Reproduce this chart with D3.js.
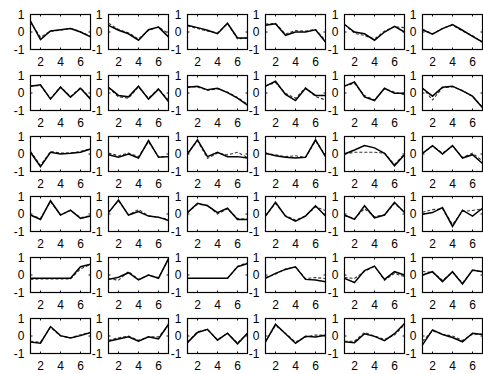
<!DOCTYPE html>
<html>
<head>
<meta charset="utf-8">
<script src="https://cdn.jsdelivr.net/npm/d3@7"></script>
<style>
  body { margin: 0; background: #fff; }
  svg { display: block; }
</style>
</head>
<body>
<div id="chart"></div>
<script>
const xValues = [1, 2, 3, 4, 5, 6, 7];
const xTicks = [2, 4, 6];
const yTicks = [-1, 0, 1];

// solid line per panel, row by row (6 x 6)
const solidSeries = [
  [0.62, -0.43, 0.06, 0.13, 0.2, 0.0, -0.28],
  [0.38, 0.1, -0.1, -0.47, 0.13, 0.28, -0.28],
  [0.38, 0.25, 0.1, -0.1, 0.5, -0.34, -0.34],
  [0.38, 0.47, -0.19, 0.0, 0.0, 0.13, -0.57],
  [0.43, 0.0, -0.1, -0.47, 0.0, 0.32, 0.0],
  [0.13, -0.13, 0.19, 0.42, 0.1, -0.25, -0.57],

  [0.39, 0.47, -0.35, 0.33, -0.24, 0.27, -0.35],
  [0.33, -0.14, -0.22, 0.39, -0.35, 0.22, -0.49],
  [0.33, 0.39, 0.18, 0.27, 0.02, -0.29, -0.69],
  [0.39, 0.67, -0.08, -0.43, 0.27, -0.14, -0.14],
  [0.39, 0.63, -0.22, -0.43, 0.27, -0.02, -0.02],
  [0.27, -0.18, 0.33, 0.39, 0.12, -0.18, -0.84],

  [0.1, -0.73, 0.1, 0.0, 0.04, 0.1, 0.29],
  [-0.04, -0.19, 0.0, -0.23, 0.77, -0.19, -0.15],
  [0.0, 0.81, -0.15, 0.1, -0.15, -0.15, -0.23],
  [0.04, -0.1, -0.19, -0.23, -0.19, 0.81, -0.15],
  [0.0, 0.23, 0.48, 0.35, 0.04, -0.67, -0.04],
  [0.04, 0.48, 0.0, 0.48, -0.23, -0.04, -0.54],

  [-0.06, -0.31, 0.76, -0.06, 0.22, -0.25, -0.12],
  [0.08, 0.8, -0.06, 0.14, -0.12, -0.18, -0.37],
  [0.08, 0.61, 0.47, 0.08, 0.33, -0.31, -0.31],
  [-0.12, 0.67, -0.12, -0.41, -0.12, 0.47, -0.12],
  [-0.06, -0.31, 0.47, -0.22, -0.06, 0.67, 0.08],
  [-0.02, 0.08, 0.37, -0.71, 0.22, -0.12, 0.33],

  [-0.19, -0.19, -0.19, -0.19, -0.19, 0.47, 0.62],
  [-0.25, -0.13, 0.13, -0.28, 0.0, -0.19, 0.94],
  [-0.19, -0.19, -0.19, -0.19, -0.19, 0.47, 0.66],
  [-0.19, 0.09, 0.32, 0.47, -0.25, -0.28, -0.38],
  [-0.19, -0.43, 0.25, 0.51, -0.25, 0.19, 0.0],
  [0.0, 0.19, -0.38, 0.19, -0.51, 0.28, 0.19],

  [-0.35, -0.41, 0.54, 0.02, -0.11, 0.02, 0.2],
  [-0.3, -0.17, -0.04, -0.3, -0.04, -0.17, 0.67],
  [-0.38, 0.2, 0.38, -0.24, 0.16, -0.45, 0.16],
  [-0.33, 0.67, 0.13, -0.42, -0.02, -0.05, 0.04],
  [-0.33, -0.38, 0.13, -0.02, -0.27, 0.13, 0.71],
  [-0.51, 0.35, 0.09, -0.09, -0.33, 0.16, 0.09]
];

// dashed line per panel
const dashedSeries = [
  [0.55, -0.3, 0.05, 0.1, 0.22, 0.02, -0.25],
  [0.5, 0.15, -0.05, -0.4, 0.1, 0.3, -0.1],
  [0.35, 0.2, 0.05, -0.05, 0.48, -0.4, -0.35],
  [0.45, 0.5, -0.12, 0.08, 0.05, 0.15, -0.5],
  [0.45, -0.08, -0.2, -0.4, 0.05, 0.3, 0.25],
  [0.15, -0.1, 0.2, 0.4, 0.05, -0.2, -0.6],

  [0.4, 0.42, -0.3, 0.35, -0.2, 0.3, -0.3],
  [0.3, -0.22, -0.3, 0.35, -0.3, 0.25, -0.4],
  [0.35, 0.35, 0.15, 0.25, 0.05, -0.25, -0.65],
  [0.4, 0.6, -0.02, -0.3, 0.3, -0.2, -0.4],
  [0.4, 0.55, -0.15, -0.4, 0.25, 0.05, -0.1],
  [0.3, -0.4, 0.3, 0.35, 0.15, -0.2, -0.8],

  [0.15, -0.65, 0.15, 0.05, 0.05, 0.15, 0.3],
  [0.05, -0.1, 0.05, -0.15, 0.7, -0.15, -0.15],
  [0.05, 0.75, -0.25, 0.05, -0.05, 0.1, -0.2],
  [0.05, -0.05, -0.15, -0.1, -0.2, 0.75, -0.1],
  [0.0, 0.1, 0.1, 0.1, 0.05, -0.6, 0.0],
  [0.05, 0.45, 0.05, 0.45, -0.2, 0.05, -0.4],

  [-0.05, -0.25, 0.7, -0.05, 0.2, -0.2, -0.1],
  [0.1, 0.75, -0.05, 0.25, -0.1, -0.2, -0.3],
  [0.1, 0.55, 0.5, 0.0, 0.3, -0.25, -0.3],
  [-0.1, 0.6, -0.1, -0.35, -0.1, 0.4, 0.2],
  [-0.1, -0.25, 0.3, -0.15, -0.05, 0.6, 0.1],
  [0.1, 0.25, 0.3, -0.6, 0.15, 0.2, 0.3],

  [-0.25, -0.22, -0.22, -0.22, -0.22, 0.35, 0.6],
  [-0.2, -0.3, 0.2, -0.25, 0.0, -0.15, 0.9],
  [-0.2, -0.2, -0.2, -0.2, -0.2, 0.5, 0.7],
  [-0.15, 0.05, 0.35, 0.45, -0.2, -0.15, -0.2],
  [-0.15, -0.2, 0.2, 0.5, -0.3, 0.1, -0.1],
  [0.2, 0.15, -0.3, 0.15, -0.45, 0.25, 0.2],

  [-0.3, -0.35, 0.5, 0.0, -0.1, 0.07, 0.2],
  [-0.25, -0.1, 0.0, -0.25, -0.05, -0.05, 0.6],
  [-0.35, 0.25, 0.35, -0.2, 0.15, -0.4, 0.15],
  [-0.3, 0.6, 0.15, -0.35, -0.05, 0.05, 0.05],
  [-0.3, -0.3, 0.2, 0.0, -0.2, 0.05, 0.65],
  [-0.3, 0.3, 0.1, 0.0, -0.25, 0.1, 0.1]
];

const W = 483, H = 374;
const nCols = 6;
const panelW = 60, panelH = 35;

// panel origins
const colX = d3.scaleLinear().domain([0, 5]).range([30, 422]);
const rowY = d3.scaleLinear().domain([0, 5]).range([14, 318]);

const svg = d3.select("#chart").append("svg")
  .attr("width", W)
  .attr("height", H)
  .style("font-family", "Arial, 'Liberation Sans', sans-serif")
  .style("font-size", "12px");

const x = d3.scaleLinear().domain([1, 7]).range([0, panelW]);
const y = d3.scaleLinear().domain([-1, 1]).range([panelH, 0]);

const line = d3.line()
  .x((d, i) => x(xValues[i]))
  .y(d => y(d));

solidSeries.forEach((solid, k) => {
  const r = Math.floor(k / nCols), c = k % nCols;
  const g = svg.append("g")
    .attr("transform", `translate(${Math.round(colX(c)) + 0.5},${Math.round(rowY(r)) + 0.5})`);

  // box
  g.append("rect")
    .attr("width", panelW)
    .attr("height", panelH)
    .attr("fill", "none")
    .attr("stroke", "#000")
    .attr("stroke-width", 1.2);

  // inner ticks
  xTicks.forEach(t => {
    g.append("line").attr("x1", x(t)).attr("x2", x(t)).attr("y1", panelH).attr("y2", panelH - 2).attr("stroke", "#111");
    g.append("line").attr("x1", x(t)).attr("x2", x(t)).attr("y1", 0).attr("y2", 2).attr("stroke", "#111");
  });
  yTicks.forEach(t => {
    g.append("line").attr("x1", 0).attr("x2", 2).attr("y1", y(t)).attr("y2", y(t)).attr("stroke", "#111");
    g.append("line").attr("x1", panelW).attr("x2", panelW - 2).attr("y1", y(t)).attr("y2", y(t)).attr("stroke", "#111");
  });

  // tick labels
  g.selectAll("text.yt").data(yTicks).enter().append("text")
    .attr("class", "yt")
    .attr("x", -6)
    .attr("y", d => y(d))
    .attr("dy", "0.35em")
    .attr("text-anchor", "end")
    .text(d => d);

  g.selectAll("text.xt").data(xTicks).enter().append("text")
    .attr("class", "xt")
    .attr("x", d => x(d))
    .attr("y", panelH + 12)
    .attr("dy", "0.35em")
    .attr("text-anchor", "middle")
    .text(d => d);

  // series
  g.append("path")
    .datum(dashedSeries[k])
    .attr("d", line)
    .attr("fill", "none")
    .attr("stroke", "#333")
    .attr("stroke-width", 1.1)
    .attr("stroke-dasharray", "3,2");

  g.append("path")
    .datum(solid)
    .attr("d", line)
    .attr("fill", "none")
    .attr("stroke", "#000")
    .attr("stroke-width", 1.5);
});
</script>
</body>
</html>
